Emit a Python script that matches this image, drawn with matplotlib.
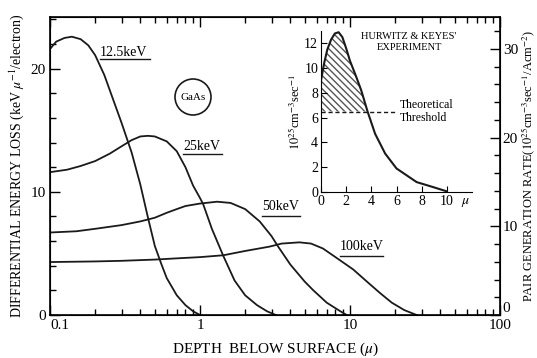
import matplotlib
matplotlib.use('Agg')
import matplotlib.pyplot as plt
from matplotlib.ticker import MultipleLocator, LogLocator, NullFormatter
from matplotlib.patches import Ellipse
from matplotlib.lines import Line2D

plt.rcParams['font.family'] = ['Liberation Serif', 'DejaVu Serif']
plt.rcParams['mathtext.fontset'] = 'stix'

# energy loss curves (depth in micron, keV/micron/electron)
x_125 = [0.1, 0.11, 0.125, 0.14, 0.16, 0.18, 0.2, 0.23, 0.26, 0.3, 0.35, 0.4, 0.45, 0.5, 0.55, 0.6, 0.7, 0.8, 0.9, 1.0]
y_125 = [21.6, 22.2, 22.5, 22.6, 22.4, 21.9, 21.1, 19.5, 17.7, 15.6, 13.2, 10.6, 7.9, 5.6, 4.2, 3.0, 1.6, 0.8, 0.3, 0.0]

x_25 = [0.1, 0.13, 0.16, 0.2, 0.25, 0.3, 0.35, 0.4, 0.45, 0.5, 0.6, 0.7, 0.8, 0.9, 1.0, 1.05, 1.2, 1.43, 1.7, 2.0, 2.4, 2.8, 3.2]
y_25 = [11.6, 11.8, 12.1, 12.5, 13.1, 13.7, 14.2, 14.5, 14.55, 14.5, 14.1, 13.3, 12.0, 10.5, 9.5, 9.0, 7.0, 4.8, 2.8, 1.6, 0.8, 0.3, 0.0]

x_50 = [0.1, 0.15, 0.2, 0.3, 0.4, 0.5, 0.6, 0.7, 0.8, 1.0, 1.3, 1.6, 2.0, 2.5, 3.0, 3.3, 4.0, 5.0, 5.7, 7.0, 8.5, 9.5]
y_50 = [6.7, 6.8, 7.0, 7.3, 7.6, 7.9, 8.3, 8.6, 8.85, 9.05, 9.2, 9.1, 8.6, 7.6, 6.4, 5.6, 4.1, 2.7, 2.0, 1.0, 0.35, 0.0]

x_100 = [0.1, 0.2, 0.3, 0.5, 0.7, 1.0, 1.43, 2.0, 2.9, 3.5, 4.6, 5.5, 6.6, 8.0, 10.5, 13.0, 15.8, 19.0, 23.0, 27.8]
y_100 = [4.3, 4.35, 4.4, 4.5, 4.6, 4.7, 4.85, 5.2, 5.55, 5.8, 5.9, 5.8, 5.4, 4.7, 3.7, 2.7, 1.8, 1.0, 0.4, 0.0]

# inset: Hurwitz & Keyes experiment
x_hk = [0, 0.25, 0.5, 0.8, 1.1, 1.4, 1.7, 2.0, 2.3, 2.8, 3.2, 3.7, 4.3, 5.1, 6.0, 7.6, 8.9, 10.0]
y_hk = [9.0, 10.4, 11.5, 12.3, 12.8, 12.9, 12.5, 11.6, 10.6, 9.3, 8.2, 6.5, 4.7, 3.1, 1.9, 0.8, 0.4, 0.05]
threshold = 6.5

W, H = 537, 358
fig = plt.figure(figsize=(5.37, 3.58), dpi=100)
ax = fig.add_axes([50 / W, 43 / H, 450 / W, 298 / H])
lc = '#1a1a1a'

for xs, ys in [(x_125, y_125), (x_25, y_25), (x_50, y_50), (x_100, y_100)]:
    ax.plot(xs, ys, color=lc, lw=1.3)

ax.set_xscale('log')
ax.set_xlim(0.1, 100)
ax.set_ylim(0, 24.2)
ax.set_xticks([0.1, 1, 10, 100])
ax.set_xticklabels(['0.1', '1', '10', '100'])
ax.xaxis.set_minor_locator(LogLocator(base=10, subs=range(2, 10)))
ax.xaxis.set_minor_formatter(NullFormatter())
ax.set_yticks([0, 10, 20])
ax.yaxis.set_minor_locator(MultipleLocator(2))
ax.tick_params(which='both', direction='in', top=True, labelsize=11, pad=3)
ax.tick_params(which='major', length=7, width=1)
ax.tick_params(which='minor', length=4, width=1)
ax.get_xticklabels()[0].set_ha('left')
for s in ax.spines.values():
    s.set_linewidth(1.2)
ax.set_xlabel(r'DEPTH  BELOW SURFACE ($\mu$)', fontsize=11, labelpad=6)
ax.set_ylabel(r'DIFFERENTIAL ENERGY LOSS (keV $\mu^{-1}$/electron)', fontsize=10, labelpad=3)

ax2 = ax.twinx()
ax2.set_ylim(0, 33.6)
ax2.set_yticks([0, 10, 20, 30])
ax2.yaxis.set_minor_locator(MultipleLocator(2))
ax2.tick_params(which='both', direction='in', labelsize=11, pad=2)
ax2.tick_params(which='major', length=7, width=1)
ax2.tick_params(which='minor', length=4, width=1)
ax2.get_yticklabels()[0].set_va('bottom')
ax2.set_ylabel(r'PAIR GENERATION RATE($10^{25}$cm$^{-3}$sec$^{-1}$/Acm$^{-2}$)', fontsize=9, labelpad=1)

# curve labels with underlines (pixel positions)
def px(x, y):
    return x / W, 1 - y / H

labels = [('12.5keV', 100, 150, 52, 59), ('25keV', 183, 222, 146, 154),
          ('50keV', 262, 300, 206, 216), ('100keV', 340, 383, 247, 256)]
for txt, x0, x1, yt, yu in labels:
    fig.text(*px(x0, yt), txt, fontsize=10, ha='left', va='center')
    fig.add_artist(Line2D([x0 / W, x1 / W], [1 - yu / H, 1 - yu / H], color=lc, lw=1))

fig.add_artist(Ellipse(px(193, 97), 36 / W, 36 / H, transform=fig.transFigure,
                       fill=False, color=lc, lw=1.2))
fig.text(*px(193, 97), 'GaAs', fontsize=8, ha='center', va='center')

# inset
axi = fig.add_axes([321 / W, 1 - 192 / H, 151 / W, 161 / H])
axi.set_facecolor('none')
axi.plot(x_hk, y_hk, color=lc, lw=1.5)
axi.fill_between(x_hk, y_hk, threshold, where=[v >= threshold for v in y_hk],
                 facecolor='none', edgecolor='#555555', hatch='\\\\\\\\\\', lw=0)
axi.plot([0, 6.0], [threshold, threshold], color=lc, lw=1, ls=(0, (3, 2)))
axi.set_xlim(0, 12)
axi.set_ylim(0, 13)
axi.set_xticks([0, 2, 4, 6, 8, 10])
axi.set_yticks([0, 2, 4, 6, 8, 10, 12])
axi.tick_params(direction='in', length=4, labelsize=10, pad=2)
axi.spines['top'].set_visible(False)
axi.spines['right'].set_visible(False)
axi.text(11.5, -0.35, r'$\mu$', ha='center', va='top', fontsize=10)
axi.set_ylabel(r'$10^{25}$cm$^{-3}$sec$^{-1}$', fontsize=9, labelpad=1)
axi.text(7.0, 12.1, "HURWITZ & KEYES'\nEXPERIMENT", ha='center', va='center',
         fontsize=7.5, linespacing=1.3)
axi.text(6.3, 6.5, 'Theoretical\nThreshold', ha='left', va='center', fontsize=8.5,
         linespacing=1.1)

fig.savefig('out.png', dpi=100)
